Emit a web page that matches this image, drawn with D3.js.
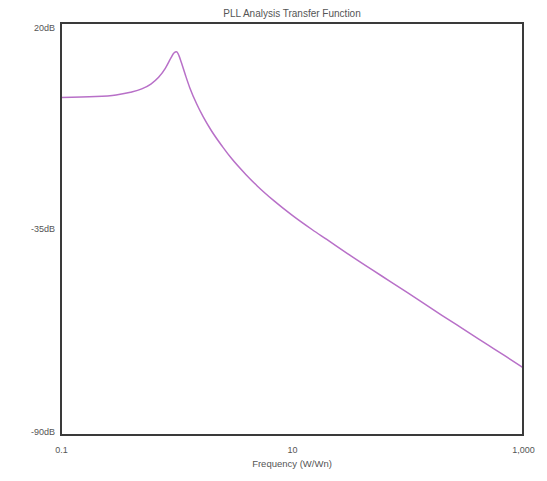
<!DOCTYPE html>
<html>
<head>
<meta charset="utf-8">
<script src="https://cdn.jsdelivr.net/npm/d3@7"></script>
<style>
  body { margin: 0; background: #fff; }
  text { font-family: "Liberation Sans", Arial, sans-serif; fill: #555; }
</style>
</head>
<body>
<div id="chart"></div>
<script>
// normalized frequency (W/Wn) and gain in dB
var freq = [0.1, 0.2, 0.3, 0.4, 0.5, 0.6, 0.7, 0.8, 0.9, 0.95, 1.0, 1.05, 1.1, 1.2, 1.3, 1.5, 1.7, 2.0, 2.5, 3.0, 4.0, 5.0, 7.0, 10, 15, 20, 30, 50, 70, 100, 200, 300, 500, 700, 1000];
var gain = [0.1, 0.35, 0.8, 1.5, 2.4, 3.7, 5.5, 7.9, 10.8, 12.0, 12.3, 11.3, 9.5, 5.9, 2.8, -1.7, -5.0, -8.7, -13.0, -16.2, -20.5, -23.5, -27.5, -31.3, -35.2, -37.8, -41.5, -46.0, -48.9, -52.0, -58.1, -61.6, -66.0, -68.9, -72.0];

var yTicks = [20, -35, -90];
var xTicks = [0.1, 10, 1000];

var width = 547, height = 481;
var margin = { top: 23, right: 24, bottom: 46, left: 61 };
var w = width - margin.left - margin.right,
    h = height - margin.top - margin.bottom;

var svg = d3.select("#chart")
  .append("svg")
  .attr("width", width)
  .attr("height", height);

var g = svg.append("g")
  .attr("transform", "translate(" + margin.left + "," + margin.top + ")");

var x = d3.scaleLog().domain([0.1, 1000]).range([0, w]);
var y = d3.scaleLinear().domain([-90, 20]).range([h, 0]);

// title
svg.append("text")
  .attr("x", margin.left + w / 2)
  .attr("y", 17)
  .attr("text-anchor", "middle")
  .style("font-size", "10px")
  .text("PLL Analysis Transfer Function");

// y axis labels
var yAxis = g.append("g")
  .call(d3.axisLeft(y).tickValues(yTicks).tickSize(0).tickPadding(6).tickFormat(d => d + "dB"));
yAxis.select(".domain").remove();
yAxis.selectAll("text")
  .style("font-size", "9px")
  .attr("fill", "#555")
  .attr("dy", function(d) { return d === 20 ? "0.85em" : d === -90 ? "-0.05em" : "0.32em"; });

// x axis labels
var xAxis = g.append("g")
  .attr("transform", "translate(0," + h + ")")
  .call(d3.axisBottom(x).tickValues(xTicks).tickSize(0).tickPadding(12).tickFormat(d3.format(",")));
xAxis.select(".domain").remove();
xAxis.selectAll("text")
  .style("font-size", "9px")
  .attr("fill", "#555");

svg.append("text")
  .attr("x", margin.left + w / 2)
  .attr("y", height - 14)
  .attr("text-anchor", "middle")
  .style("font-size", "9.5px")
  .text("Frequency (W/Wn)");

// the curve
var points = freq.map((f, i) => [f, gain[i]]);
var line = d3.line()
  .x(d => x(d[0]))
  .y(d => y(d[1]))
  .curve(d3.curveMonotoneX);

g.append("path")
  .datum(points)
  .attr("d", line)
  .attr("fill", "none")
  .attr("stroke", "#b870c8")
  .attr("stroke-width", 1.5);

// plot frame
g.append("rect")
  .attr("x", 0)
  .attr("y", 0)
  .attr("width", w)
  .attr("height", h)
  .attr("fill", "none")
  .attr("stroke", "#3a3a3a")
  .attr("stroke-width", 2);
</script>
</body>
</html>
